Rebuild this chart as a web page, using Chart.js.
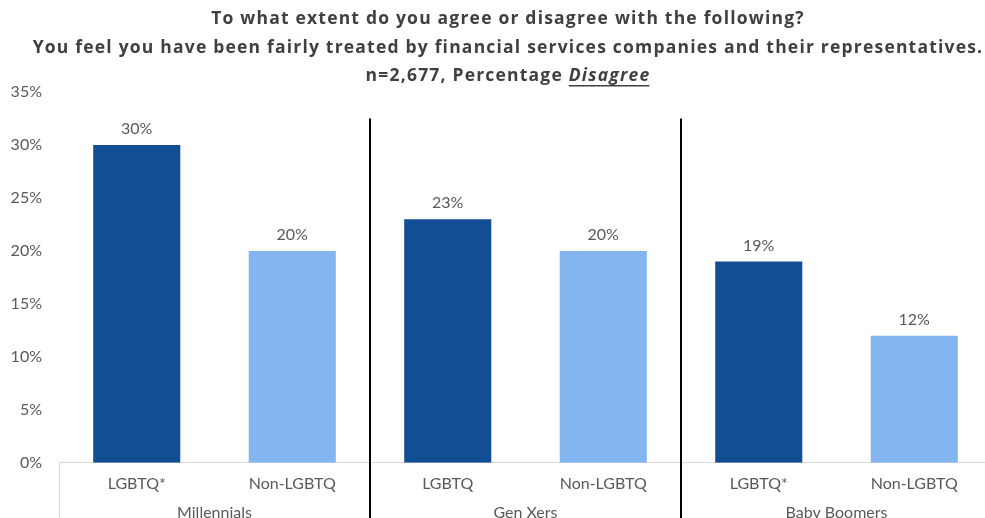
<!DOCTYPE html>
<html>
<head>
<meta charset="utf-8">
<script src="https://cdn.jsdelivr.net/npm/chart.js@4.4.0/dist/chart.umd.min.js"></script>
<style>
html,body{margin:0;padding:0;background:#fff;overflow:hidden;}
#wrap{width:1016px;height:518px;}
</style>
</head>
<body>
<div id="wrap"><canvas id="c" width="1016" height="518"></canvas></div>
<script>
const categories = ['LGBTQ*', 'Non-LGBTQ', 'LGBTQ', 'Non-LGBTQ', 'LGBTQ*', 'Non-LGBTQ'];
const groups = ['Millennials', 'Gen Xers', 'Baby Boomers'];
const disagreeValues = [30, 20, 23, 20, 19, 12];
const yTicks = [0, 5, 10, 15, 20, 25, 30, 35];
const titleLines = [
  'To what extent do you agree or disagree with the following?',
  'You feel you have been fairly treated by financial services companies and their representatives.'
];
const titleLine3 = ['n=2,677, Percentage ', 'Disagree'];

const DARK = '#114E93', LIGHT = '#83B6F0';
const FONT = 'Lato, "Open Sans", sans-serif';
const TFONT = '"Open Sans", Lato, sans-serif';
const TXT = '#595959';

const titlePlugin = {
  id: 'titleDraw',
  afterDraw(chart) {
    const ctx = chart.ctx;
    const cx = chart.width / 2;
    ctx.save();
    ctx.fillStyle = '#404040';
    ctx.textBaseline = 'middle';
    ctx.textAlign = 'center';
    if ('letterSpacing' in ctx) ctx.letterSpacing = '1.2px';
    ctx.font = 'bold 17.5px ' + TFONT;
    ctx.fillText(titleLines[0], cx, 19);
    ctx.fillText(titleLines[1], cx, 48);
    const a = titleLine3[0], b = titleLine3[1];
    ctx.font = 'bold 17.5px ' + TFONT;
    const wa = ctx.measureText(a).width;
    ctx.font = 'italic bold 17.5px ' + TFONT;
    const wb = ctx.measureText(b).width;
    const x0 = cx - (wa + wb) / 2;
    ctx.textAlign = 'left';
    ctx.font = 'bold 17.5px ' + TFONT;
    ctx.fillText(a, x0, 76);
    ctx.font = 'italic bold 17.5px ' + TFONT;
    ctx.fillText(b, x0 + wa, 76);
    ctx.fillRect(x0 + wa, 85, wb - 1, 1.5);
    ctx.restore();
  }
};

const decoPlugin = {
  id: 'deco',
  afterDraw(chart) {
    const ctx = chart.ctx;
    const xs = chart.scales.x, ys = chart.scales.y;
    const bottom = chart.height;
    const axisY = ys.getPixelForValue(0);
    ctx.save();
    ctx.strokeStyle = '#d9d9d9';
    ctx.lineWidth = 1;
    ctx.beginPath();
    ctx.moveTo(chart.chartArea.left + 0.5, axisY);
    ctx.lineTo(chart.chartArea.left + 0.5, bottom);
    ctx.stroke();
    ctx.strokeStyle = '#000';
    ctx.lineWidth = 2;
    const topY = ys.getPixelForValue(32.5);
    for (let g = 1; g < groups.length; g++) {
      const x = (xs.getPixelForValue(2 * g - 1) + xs.getPixelForValue(2 * g)) / 2;
      ctx.beginPath();
      ctx.moveTo(x, topY);
      ctx.lineTo(x, bottom);
      ctx.stroke();
    }
    ctx.fillStyle = TXT;
    ctx.font = '16px ' + FONT;
    ctx.textAlign = 'center';
    ctx.textBaseline = 'middle';
    groups.forEach((g, i) => {
      const x = (xs.getPixelForValue(2 * i) + xs.getPixelForValue(2 * i + 1)) / 2;
      ctx.fillText(g, x, 513);
    });
    const meta = chart.getDatasetMeta(0);
    meta.data.forEach((el, i) => {
      ctx.fillText(disagreeValues[i] + '%', el.x, el.y - 16);
    });
    ctx.restore();
  }
};

new Chart(document.getElementById('c'), {
  type: 'bar',
  data: {
    labels: categories,
    datasets: [{
      data: disagreeValues,
      backgroundColor: categories.map((c, i) => i % 2 === 0 ? DARK : LIGHT),
      barPercentage: 0.56,
      categoryPercentage: 1
    }]
  },
  options: {
    responsive: false,
    animation: false,
    layout: { padding: { top: 92, right: 24, bottom: 14, left: 0 } },
    plugins: { legend: { display: false }, title: { display: false }, tooltip: { enabled: false } },
    scales: {
      x: {
        grid: { display: false, drawTicks: false },
        border: { display: true, color: '#d9d9d9', width: 1 },
        ticks: { color: TXT, font: { family: FONT, size: 16 }, padding: 11, maxRotation: 0 }
      },
      y: {
        min: 0, max: 35,
        afterBuildTicks: s => { s.ticks = yTicks.map(v => ({ value: v })); },
        afterFit: s => { s.width = 59; },
        grid: { display: false, drawTicks: false },
        border: { display: false },
        ticks: { color: TXT, font: { family: FONT, size: 16 }, padding: 17, callback: v => v + '%' }
      }
    }
  },
  plugins: [titlePlugin, decoPlugin]
});
</script>
</body>
</html>
